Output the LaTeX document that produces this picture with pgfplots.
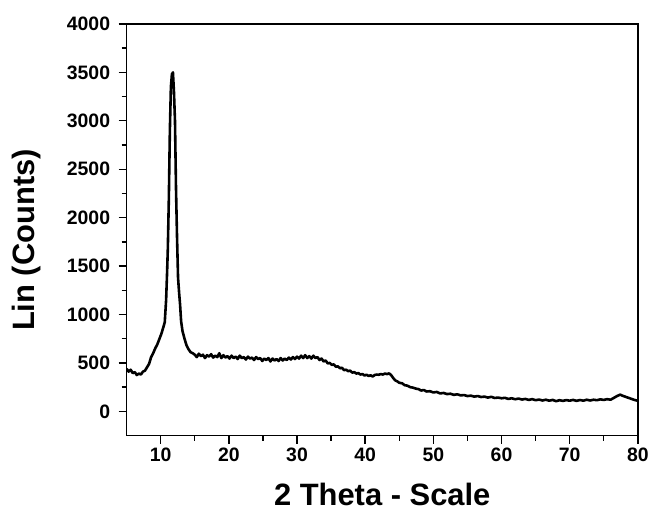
\documentclass[border=0pt]{standalone}
\usepackage{fontspec}
\setmainfont{Liberation Sans}
\usepackage{pgfplots}
\pgfplotsset{compat=1.18}
\newcommand{\tlf}{\fontsize{19.5bp}{20bp}\selectfont\bfseries}
\newcommand{\lbf}{\fontsize{31bp}{32bp}\selectfont\bfseries}

\pgfplotstableread{
x y
5.0 440
5.3 410
5.6 430
5.9 395
6.2 405
6.5 375
6.8 390
7.1 380
7.4 410
7.7 420
8.0 455
8.3 490
8.6 560
8.9 600
9.2 650
9.5 690
9.8 745
10.1 800
10.4 870
10.6 920
10.8 1150
10.95 1450
11.05 1680
11.2 2200
11.35 2900
11.5 3350
11.65 3480
11.8 3500
11.95 3300
12.1 3000
12.25 2300
12.4 1800
12.55 1380
12.7 1230
12.85 1100
13.0 930
13.2 830
13.5 750
13.8 680
14.1 640
14.4 610
14.7 600
15.0 585
15.3 560
15.6 595
15.9 570
16.2 585
16.5 550
16.8 580
17.1 565
17.4 590
17.7 555
18.0 575
18.3 560
18.6 600
18.9 550
19.2 580
19.5 555
19.8 570
20.1 545
20.4 575
20.7 550
21.0 565
21.3 540
21.6 575
21.9 550
22.2 560
22.5 535
22.8 565
23.1 545
23.4 555
23.7 530
24.0 560
24.3 540
24.6 550
24.9 520
25.2 545
25.5 530
25.8 550
26.1 515
26.4 545
26.7 525
27.0 540
27.3 520
27.6 550
27.9 525
28.2 545
28.5 530
28.8 555
29.1 535
29.4 560
29.7 540
30.0 565
30.3 545
30.6 575
30.9 550
31.2 580
31.5 550
31.8 570
32.1 545
32.4 575
32.7 550
33.0 560
33.3 530
33.6 545
33.9 515
34.2 525
34.5 495
34.8 500
35.1 480
35.4 485
35.7 460
36.0 465
36.3 445
36.6 450
36.9 425
37.2 430
37.5 415
37.8 420
38.1 400
38.4 405
38.7 390
39.0 395
39.3 380
39.6 385
39.9 370
40.2 378
40.5 365
40.8 372
41.1 360
41.4 375
41.7 380
42.0 378
42.3 385
42.6 380
42.9 390
43.2 385
43.5 392
43.8 375
44.1 345
44.4 320
44.7 310
45.0 295
45.4 290
45.8 270
46.2 265
46.6 250
47.0 245
47.4 235
47.8 230
48.2 215
48.6 220
49.0 205
49.5 208
50.0 195
50.5 200
51.0 185
51.5 190
52.0 178
52.5 182
53.0 170
53.5 176
54.0 165
54.5 168
55.0 158
55.5 162
56.0 152
56.5 158
57.0 148
57.5 152
58.0 142
58.5 150
59.0 138
59.5 142
60.0 135
60.5 140
61.0 128
61.5 135
62.0 125
62.5 132
63.0 122
63.5 128
64.0 118
64.5 126
65.0 115
65.5 122
66.0 112
66.5 120
67.0 110
67.5 118
68.0 105
68.5 115
69.0 108
69.5 116
70.0 110
70.5 118
71.0 108
71.5 117
72.0 110
72.5 120
73.0 112
73.5 120
74.0 115
74.5 124
75.0 118
75.5 126
76.0 120
76.5 140
77.0 160
77.4 172
77.8 160
78.2 150
78.6 140
79.0 130
79.4 120
79.8 112
80.0 115
}\xrd

\begin{document}
\begin{tikzpicture}
  \begin{axis}[
      width=513bp, height=413bp, scale only axis,
      xmin=5, xmax=80, ymin=-250, ymax=4000,
      xtick={10,20,...,80},
      xticklabels={\tlf 10,\tlf 20,\tlf 30,\tlf 40,\tlf 50,\tlf 60,\tlf 70,\tlf 80},
      ytick={0,500,...,4000},
      yticklabels={\tlf 0,\tlf 500,\tlf 1000,\tlf 1500,\tlf 2000,\tlf 2500,\tlf 3000,\tlf 3500,\tlf 4000},
      minor x tick num=1, minor y tick num=1,
      xtick pos=bottom, ytick pos=left,
      tick align=outside,
      major tick length=8bp, minor tick length=5bp,
      axis line style={line width=1.6bp},
      every tick/.style={black, line width=1.4bp},
      xticklabel style={yshift=-1bp},
      yticklabel style={xshift=-5bp},
      xlabel={\lbf 2 Theta - Scale},
      ylabel={\lbf Lin (Counts)},
      every axis x label/.style={at={(axis description cs:0.5,-0.142)}, anchor=center},
      every axis y label/.style={at={(axis description cs:-0.195,0.475)}, anchor=center, rotate=90},
    ]
    \addplot[black, line width=2.6bp, line join=round, mark=none] table {\xrd};
  \end{axis}
  \path (current axis.south west) ++(-127bp,-79bp) coordinate (bl);
  \path (current axis.north east) ++(12bp,24bp) coordinate (tr);
  \path (bl) rectangle (tr);
\end{tikzpicture}
\end{document}
